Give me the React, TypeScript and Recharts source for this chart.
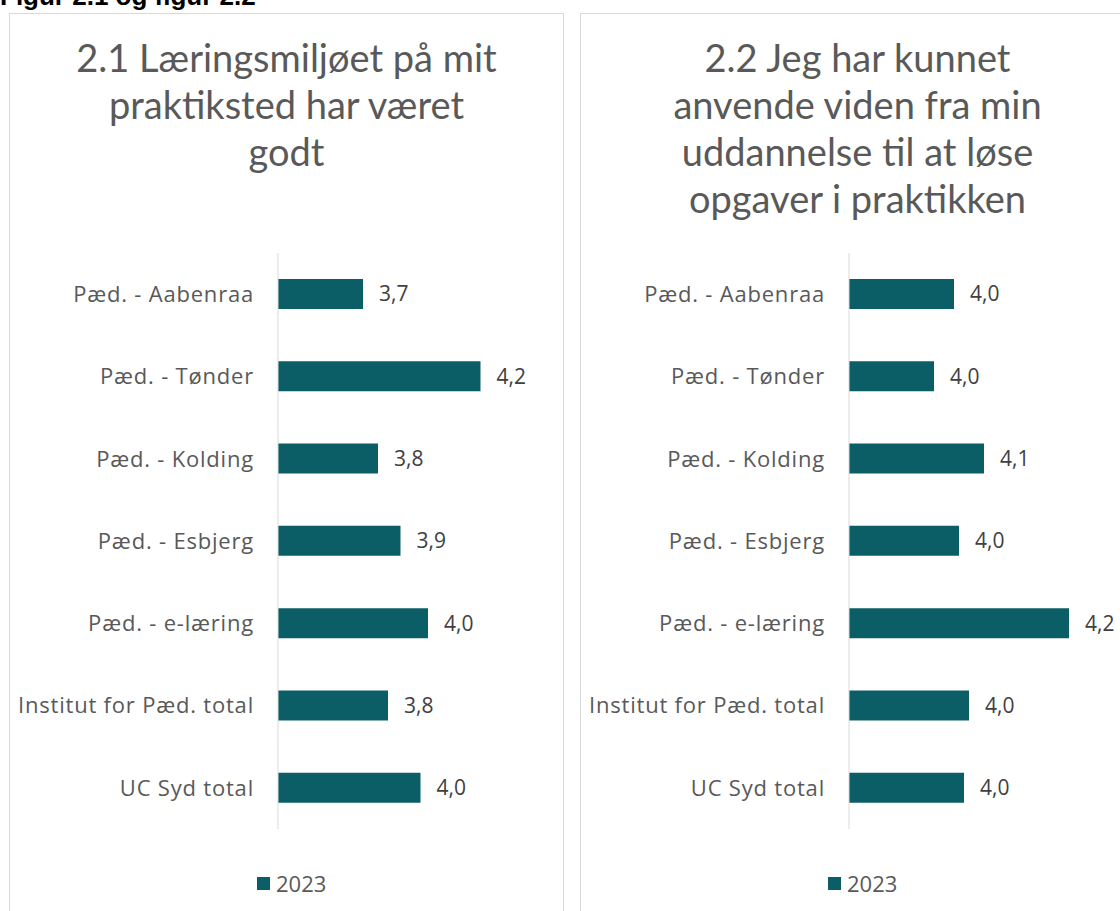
import { BarChart, Bar, XAxis, YAxis, LabelList } from "recharts";

// categories, top to bottom
const categories = [
  "Pæd. - Aabenraa",
  "Pæd. - Tønder",
  "Pæd. - Kolding",
  "Pæd. - Esbjerg",
  "Pæd. - e-læring",
  "Institut for Pæd. total",
  "UC Syd total",
];

// 2.1 Læringsmiljøet på mit praktiksted har været godt (2023)
const learningEnv2023 = [3.74, 4.21, 3.8, 3.89, 4.0, 3.84, 3.97];
// 2.2 Jeg har kunnet anvende viden fra min uddannelse ... (2023)
const applyKnowledge2023 = [4.01, 3.97, 4.07, 4.02, 4.24, 4.04, 4.03];

const title1 = ["2.1 Læringsmiljøet på mit", "praktiksted har været", "godt"];
const title2 = ["2.2 Jeg har kunnet", "anvende viden fra min", "uddannelse til at løse", "opgaver i praktikken"];

const BAR = "#0b5e66";
const TITLE_FONT = "Lato, 'Noto Sans', sans-serif";
const FONT = "'Open Sans', 'Noto Sans', sans-serif";

const fmt = (v: number) => v.toFixed(1).replace(".", ",");

interface PanelProps {
  left: number;
  title: string[];
  values: number[];
  domain: [number, number];
}

function Panel({ left, title, values, domain }: PanelProps) {
  const data = categories.map((name, i) => ({ name, v2023: values[i] }));
  return (
    <div
      style={{
        position: "absolute",
        left,
        top: 13,
        width: 555,
        height: 920,
        boxSizing: "border-box",
        border: "1px solid #d9d9d9",
        background: "#fff",
      }}
    >
      <div
        style={{
          position: "absolute",
          left: 0,
          top: 20,
          width: 553,
          textAlign: "center",
          fontFamily: TITLE_FONT,
          fontSize: 38,
          lineHeight: "47px",
          color: "#595959",
        }}
      >
        {title.map((t) => (
          <div key={t}>{t}</div>
        ))}
      </div>
      <div style={{ position: "absolute", left: 0, top: 0 }}>
        <BarChart
          width={553}
          height={897}
          layout="vertical"
          data={data}
          margin={{ top: 239, right: 35, bottom: 82, left: 0 }}
        >
          <XAxis type="number" domain={domain} hide allowDataOverflow />
          <YAxis
            type="category"
            dataKey="name"
            width={268}
            axisLine={{ stroke: "#d9d9d9", strokeWidth: 1 }}
            tickLine={false}
            tickSize={0}
            tickMargin={24}
            tick={{ fill: "#595959", fontSize: 22, fontFamily: FONT, letterSpacing: 0.8 }}
            interval={0}
          />
          <Bar dataKey="v2023" fill={BAR} barSize={30} isAnimationActive={false}>
            <LabelList
              dataKey="v2023"
              position="right"
              offset={16}
              formatter={(v: any) => fmt(Number(v))}
              fill="#404040"
              fontSize={21}
              fontFamily={FONT}
            />
          </Bar>
        </BarChart>
      </div>
      <div
        style={{
          position: "absolute",
          left: 247,
          top: 854,
          display: "flex",
          alignItems: "center",
          fontFamily: FONT,
          fontSize: 22,
          color: "#595959",
        }}
      >
        <span style={{ display: "inline-block", width: 13, height: 13, background: BAR, marginRight: 6 }} />
        <span>2023</span>
      </div>
    </div>
  );
}

export default function App() {
  return (
    <div
      style={{
        position: "absolute",
        left: 0,
        top: 0,
        width: 1120,
        height: 911,
        overflow: "hidden",
        background: "#fff",
      }}
    >
      <div
        style={{
          position: "absolute",
          left: 0,
          top: -17,
          fontFamily: "'Liberation Sans', Arial, sans-serif",
          fontWeight: "bold",
          fontSize: 26,
          lineHeight: "26px",
          color: "#000",
          whiteSpace: "nowrap",
        }}
      >
        Figur 2.1 og figur 2.2
      </div>
      <Panel left={9} title={title1} values={learningEnv2023} domain={[3.4, 4.4]} />
      <Panel left={580} title={title2} values={applyKnowledge2023} domain={[3.8, 4.3]} />
    </div>
  );
}
